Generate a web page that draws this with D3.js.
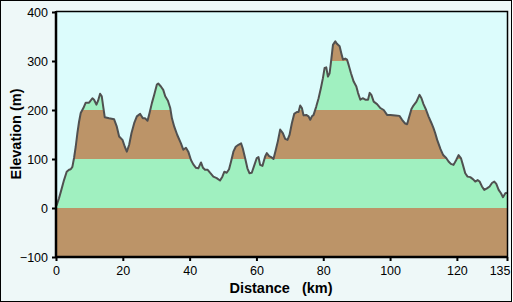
<!DOCTYPE html>
<html>
<head>
<meta charset="utf-8">
<script src="https://cdn.jsdelivr.net/npm/d3@7"></script>
<style>
  body { margin: 0; background: #fff; }
  text { font-family: "Liberation Sans", Arial, sans-serif; }
</style>
</head>
<body>
<div id="chart"></div>
<script>
// DATA
const distance = [0, 0.2, 0.9, 1.6, 2.4, 3.2, 3.9, 4.4, 4.9, 5.4, 5.9, 6.4, 6.9, 7.4, 8.2, 8.9, 9.9, 10.9, 11.4, 12.1,
  12.6, 13.2, 13.7, 14.2, 14.6, 15.9, 17.4, 18.2, 18.9, 19.9, 20.6, 21.2, 21.9, 22.6, 23.4, 24.2, 25.2, 26.0, 26.7, 27.4,
  28.0, 28.7, 29.4, 30.2, 30.6, 31.4, 32.1, 32.7, 33.5, 34.2, 34.7, 35.4, 36.3, 37.4, 38.1, 38.9, 39.6, 40.4, 41.1, 41.9,
  42.6, 43.4, 44.0, 44.6, 45.4, 46.1, 47.1, 48.1, 49.1, 49.8, 50.4, 51.1, 51.8, 52.4, 53.1, 53.8, 54.6, 55.4, 55.9, 56.6,
  57.3, 57.9, 58.6, 59.4, 60.1, 60.6, 61.1, 61.8, 62.6, 63.1, 63.8, 64.4, 65.1, 65.8, 66.4, 67.1, 67.9, 68.6, 69.3, 69.9,
  70.6, 71.3, 72.1, 72.6, 73.1, 73.6, 74.1, 74.9, 75.6, 76.1, 76.6, 77.1, 77.9, 78.6, 79.3, 79.9, 80.4, 80.9, 81.4, 81.9,
  82.4, 82.9, 83.6, 84.1, 84.9, 85.4, 85.9, 86.6, 87.1, 87.6, 88.3, 89.1, 89.9, 90.4, 91.1, 91.8, 92.6, 93.4, 93.9, 94.4,
  95.1, 96.1, 97.1, 98.1, 99.1, 100.1, 101.6, 102.8, 103.6, 104.4, 105.1, 105.6, 106.4, 107.0, 107.9, 108.8, 109.4, 110.0, 110.8, 111.5,
  112.4, 113.0, 113.5, 114.1, 115.1, 115.9, 116.8, 117.5, 118.2, 119.0, 119.8, 120.5, 121.2, 121.8, 122.5, 123.2, 124.0, 124.8, 125.5, 126.2,
  126.8, 127.5, 128.2, 129.0, 129.8, 130.5, 131.2, 131.8, 132.5, 133.2, 133.8, 134.5, 135];
const elevation = [4, 6, 20, 37, 57, 74, 78, 79, 84, 102, 125, 153, 176, 194, 204, 215, 215, 224, 221, 211,
  219, 233, 228, 204, 185, 183, 181, 166, 146, 139, 125, 115, 129, 153, 173, 187, 192, 183, 183, 178,
  194, 214, 231, 252, 254, 248, 241, 228, 219, 204, 183, 166, 149, 132, 119, 123, 115, 98, 89, 82,
  81, 93, 82, 78, 78, 72, 64, 61, 56, 64, 74, 72, 79, 95, 115, 125, 129, 132, 122, 102,
  81, 71, 72, 88, 102, 104, 88, 86, 105, 112, 106, 104, 100, 119, 136, 160, 153, 141, 139, 149,
  173, 192, 196, 196, 209, 204, 189, 190, 187, 180, 187, 190, 207, 224, 245, 265, 286, 287, 268, 275,
  303, 333, 340, 335, 330, 316, 303, 305, 303, 292, 275, 258, 248, 235, 221, 224, 221, 221, 235, 231,
  217, 212, 204, 200, 190, 190, 189, 188, 180, 173, 171, 183, 202, 209, 217, 231, 224, 212, 200, 187,
  173, 163, 153, 139, 120, 108, 102, 95, 90, 88, 98, 108, 102, 88, 71, 64, 63, 59, 54, 57,
  54, 44, 37, 40, 44, 51, 54, 49, 37, 30, 22, 30, 31];
const bandEdges = [-100, 0, 100, 200, 300, 400];
const bandColors = ['#bc9468', '#a0f0c0', '#bc9468', '#a0f0c0', '#bc9468'];
const xTicks = [0, 20, 40, 60, 80, 100, 120, 135];
const yTicks = [-100, 0, 100, 200, 300, 400];

const points = distance.map((d, i) => ({ km: d, m: elevation[i] }));

// DIMENSIONS
const width = 513, height = 302;
const pLeft = 56, pRight = 507, pTop = 12, pBottom = 257;

const svg = d3.select('#chart')
  .append('svg')
  .attr('width', width)
  .attr('height', height);

// OUTER BACKGROUND
svg.append('rect')
  .attr('x', 0.5).attr('y', 0.5)
  .attr('width', width - 2).attr('height', height - 1)
  .attr('fill', '#eef8f8')
  .attr('stroke', '#000');

// SCALES
const xScale = d3.scaleLinear().domain([0, 135]).range([pLeft, pRight]);
const yScale = d3.scaleLinear().domain([-100, 400]).range([pBottom, pTop]);

// PLOT BACKGROUND
svg.append('rect')
  .attr('x', pLeft).attr('y', pTop - 1)
  .attr('width', pRight - pLeft).attr('height', pBottom - pTop + 1)
  .attr('fill', '#dcfcfc');

// CLIP TO PROFILE
const area = d3.area()
  .x(d => xScale(d.km))
  .y0(yScale(-100))
  .y1(d => yScale(d.m));

svg.append('clipPath')
  .attr('id', 'profileClip')
  .append('path')
  .attr('d', area(points));

// BANDS
const bands = svg.append('g').attr('clip-path', 'url(#profileClip)');
bandColors.forEach((c, i) => {
  bands.append('rect')
    .attr('x', pLeft)
    .attr('y', yScale(bandEdges[i + 1]))
    .attr('width', pRight - pLeft)
    .attr('height', yScale(bandEdges[i]) - yScale(bandEdges[i + 1]))
    .attr('fill', c);
});

// PROFILE LINE
svg.append('path')
  .datum(points)
  .attr('d', d3.line().x(d => xScale(d.km)).y(d => yScale(d.m)))
  .attr('fill', 'none')
  .attr('stroke', '#505050')
  .attr('stroke-width', 2)
  .attr('stroke-linejoin', 'round');

// FRAME (TOP AND RIGHT)
svg.append('path')
  .attr('d', `M${pLeft},${pTop - 0.5}H${pRight + 0.5}V${pBottom}`)
  .attr('fill', 'none')
  .attr('stroke', '#000')
  .attr('stroke-width', 1.5);

// AXES
const xAxis = svg.append('g')
  .attr('transform', `translate(0,${pBottom})`)
  .call(d3.axisBottom(xScale).tickValues(xTicks).tickSize(4).tickPadding(5));
const yAxis = svg.append('g')
  .attr('transform', `translate(${pLeft},0)`)
  .call(d3.axisLeft(yScale).tickValues(yTicks).tickSize(4).tickPadding(4));

[xAxis, yAxis].forEach(a => {
  a.select('.domain').attr('stroke', '#000').attr('stroke-width', 2.5);
  a.selectAll('.tick line').attr('stroke', '#000').attr('stroke-width', 2);
  a.selectAll('.tick text')
    .attr('fill', '#000')
    .style('font-size', '12.5px')
    .style('font-family', '"Liberation Sans", Arial, sans-serif');
});
xAxis.select('.domain').attr('d', `M${pLeft},0H${pRight + 1}`);
yAxis.select('.domain').attr('d', `M0,${pTop - 1}V${pBottom}`);

// LAST TICK LABEL SITS INSIDE THE EDGE
xAxis.selectAll('.tick text')
  .filter(d => d === 135)
  .attr('text-anchor', 'end')
  .attr('dx', '3px');

// AXIS TITLES
svg.append('text')
  .attr('x', 281).attr('y', 293)
  .attr('text-anchor', 'middle')
  .style('font-size', '14.5px')
  .style('font-weight', 'bold')
  .style('white-space', 'pre')
  .text('Distance   (km)');

svg.append('text')
  .attr('transform', 'translate(21,134)rotate(-90)')
  .attr('text-anchor', 'middle')
  .style('font-size', '14.5px')
  .style('font-weight', 'bold')
  .text('Elevation (m)');
</script>
</body>
</html>
